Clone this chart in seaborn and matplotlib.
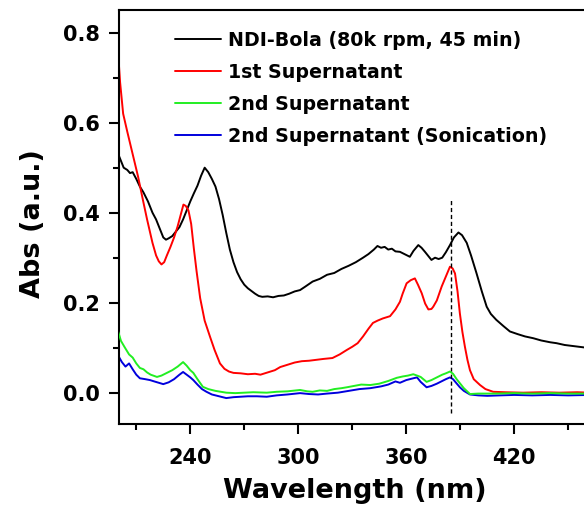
import matplotlib
matplotlib.use("Agg")
import matplotlib.pyplot as plt
import seaborn as sns
import pandas as pd
from matplotlib.ticker import MultipleLocator, FixedLocator

series_names = ["NDI-Bola (80k rpm, 45 min)", "1st Supernatant",
                "2nd Supernatant", "2nd Supernatant (Sonication)"]
series_colors = ["#000000", "#ff0000", "#22ee22", "#0000dd"]

black_x = [200, 201.5, 203, 205, 206.5, 208, 210, 212, 214, 216.5, 219, 221, 223, 225, 226.5, 228, 230, 232, 234, 236,
           238, 240, 242, 244, 246, 248, 250, 252, 254, 256, 258, 260, 262, 264, 266, 268, 270, 272, 274, 276, 278, 280,
           283, 286, 289, 292, 295, 298, 301, 304, 308, 312, 316, 320, 324, 328, 332, 336, 339, 342, 344, 346, 348, 350,
           352, 354, 356.5, 359, 362, 364, 366.7, 368.5, 370.4, 372, 374, 376, 378, 380, 382, 384.3, 386.5, 389, 391,
           393.6, 396, 399, 402, 404.7, 407, 410, 414, 417.6, 422, 426, 430.6, 435, 440, 443.5, 448, 452, 456, 462]
black_y = [0.530, 0.515, 0.500, 0.495, 0.488, 0.490, 0.475, 0.458, 0.445, 0.425, 0.400, 0.385, 0.365, 0.345, 0.340,
           0.343, 0.348, 0.358, 0.368, 0.385, 0.405, 0.425, 0.443, 0.460, 0.482, 0.500, 0.490, 0.475, 0.458, 0.430,
           0.395, 0.355, 0.318, 0.290, 0.268, 0.252, 0.240, 0.232, 0.226, 0.220, 0.215, 0.213, 0.214, 0.212, 0.215,
           0.216, 0.220, 0.225, 0.228, 0.236, 0.247, 0.253, 0.262, 0.266, 0.275, 0.282, 0.290, 0.300, 0.308, 0.318,
           0.326, 0.322, 0.324, 0.318, 0.320, 0.314, 0.313, 0.308, 0.302, 0.315, 0.328, 0.322, 0.313, 0.305, 0.295,
           0.300, 0.297, 0.300, 0.312, 0.328, 0.345, 0.356, 0.350, 0.333, 0.305, 0.266, 0.225, 0.191, 0.175, 0.162,
           0.148, 0.136, 0.130, 0.125, 0.121, 0.116, 0.112, 0.110, 0.106, 0.104, 0.102, 0.099]

red_x = [200, 201, 202.7, 205, 208, 211, 213.7, 216, 219, 221, 222.5, 224, 225.5, 227, 229, 231, 233, 235, 236.2, 237.5,
         239, 240.5, 242, 243.5, 245.5, 248, 251, 253.5, 256.5, 259, 261.5, 264, 268, 272, 276, 279, 283, 287, 290, 294,
         298, 302, 306, 310, 314, 319, 323, 327, 330, 333, 336, 339, 341.5, 344, 347, 351, 354, 356.5, 358, 360.2,
         362.5, 364.8, 366.5, 368.6, 370.5, 372.3, 374, 375, 377, 379.7, 382, 384.3, 385.8, 387.1, 388.5, 389.8, 391.2,
         392.6, 394, 395.4, 397.5, 401, 404, 408.3, 415, 425, 435, 445, 455, 462]
red_y = [0.750, 0.690, 0.620, 0.580, 0.530, 0.480, 0.428, 0.385, 0.333, 0.305, 0.292, 0.285, 0.290, 0.305, 0.324,
         0.345, 0.370, 0.400, 0.418, 0.415, 0.405, 0.375, 0.320, 0.270, 0.210, 0.160, 0.124, 0.095, 0.065, 0.053,
         0.047, 0.044, 0.043, 0.041, 0.042, 0.040, 0.045, 0.050, 0.057, 0.062, 0.067, 0.070, 0.071, 0.073, 0.075,
         0.077, 0.085, 0.095, 0.102, 0.110, 0.125, 0.142, 0.155, 0.160, 0.165, 0.170, 0.185, 0.202, 0.220, 0.243,
         0.250, 0.254, 0.240, 0.221, 0.198, 0.185, 0.186, 0.191, 0.205, 0.236, 0.258, 0.280, 0.276, 0.265, 0.225,
         0.176, 0.135, 0.102, 0.073, 0.050, 0.030, 0.017, 0.008, 0.002, 0.001, 0.000, 0.001, 0.000, 0.001, 0.000]

green_x = [200, 201.5, 203.7, 206, 208, 210, 212, 214, 216, 218, 221.5, 224, 227, 230, 233, 236, 238, 240, 241.7, 244,
           247, 250, 254, 257, 260, 265, 270, 275, 282.5, 288, 294, 301, 305, 308, 312, 316, 320, 324, 327, 331, 335,
           340, 345, 350, 354.7, 358, 361, 363.9, 366, 368, 371.3, 374, 377, 380, 382, 384.3, 386, 388, 389.8, 392,
           395.4, 400, 410, 420, 430, 440, 450, 462]
green_y = [0.135, 0.115, 0.100, 0.085, 0.078, 0.065, 0.055, 0.052, 0.045, 0.040, 0.035, 0.038, 0.044, 0.050, 0.058,
           0.068, 0.060, 0.050, 0.044, 0.030, 0.013, 0.008, 0.004, 0.002, 0.000, -0.001, 0.000, 0.001, 0.000, 0.002,
           0.003, 0.006, 0.003, 0.002, 0.005, 0.004, 0.008, 0.010, 0.012, 0.015, 0.018, 0.017, 0.020, 0.026, 0.033,
           0.036, 0.038, 0.041, 0.038, 0.035, 0.024, 0.028, 0.034, 0.040, 0.043, 0.047, 0.042, 0.030, 0.021, 0.010,
           -0.003, -0.002, -0.002, -0.001, -0.002, -0.001, -0.002, -0.002]

blue_x = [200, 202, 204, 206, 208, 210, 212, 215, 217.6, 220, 222.5, 225, 228, 231, 234, 236, 238, 240, 241.7, 244,
          246.5, 249, 252, 256, 260, 264, 268, 272, 277, 282.5, 288, 294, 301, 306, 311, 316, 322, 328, 334, 340, 346,
          350, 354, 356.5, 360, 363.9, 366, 368, 371.3, 374, 377, 380, 382, 384.3, 386, 389.8, 392, 395.4, 400, 405,
          412, 420, 430, 440, 450, 462]
blue_y = [0.082, 0.068, 0.058, 0.065, 0.052, 0.040, 0.032, 0.030, 0.028, 0.025, 0.022, 0.019, 0.023, 0.030, 0.040,
          0.046, 0.040, 0.034, 0.028, 0.018, 0.008, 0.002, -0.004, -0.008, -0.012, -0.010, -0.009, -0.008, -0.008,
          -0.009, -0.006, -0.004, -0.001, -0.003, -0.004, -0.002, 0.000, 0.004, 0.008, 0.010, 0.014, 0.018, 0.025,
          0.022, 0.028, 0.032, 0.034, 0.024, 0.012, 0.015, 0.020, 0.026, 0.030, 0.034, 0.030, 0.012, 0.004, -0.004,
          -0.006, -0.007, -0.006, -0.005, -0.006, -0.005, -0.006, -0.005]

x_ticks = [240, 300, 360, 420]
y_ticks = [0.0, 0.2, 0.4, 0.6, 0.8]
marker_wavelength = 385
x_label = "Wavelength (nm)"
y_label = "Abs (a.u.)"

frames = []
for name, xs, ys in zip(series_names, [black_x, red_x, green_x, blue_x], [black_y, red_y, green_y, blue_y]):
    frames.append(pd.DataFrame({"wl": xs, "abs": ys, "sample": name}))
df = pd.concat(frames, ignore_index=True)

sns.set_theme(style="ticks")
plt.rcParams["font.family"] = ["DejaVu Sans"]
plt.rcParams["font.weight"] = "bold"
plt.rcParams["text.color"] = "black"
plt.rcParams["axes.labelcolor"] = "black"
plt.rcParams["xtick.color"] = "black"
plt.rcParams["ytick.color"] = "black"

W, H = 584, 509
fig = plt.figure(figsize=(W / 100, H / 100), dpi=100)
fig.patch.set_facecolor("white")
ax = fig.add_axes([119 / W, 85 / H, (590 - 119) / W, (499 - 85) / H])

sns.lineplot(data=df, x="wl", y="abs", hue="sample", hue_order=series_names,
             palette=series_colors, estimator=None, sort=False, linewidth=1.4, ax=ax)
lines = ax.get_lines()
if len(lines) >= 4:
    lines[2].set_zorder(3)

ax.plot([marker_wavelength, marker_wavelength], [-0.045, 0.428], color="black",
        linestyle=(0, (3, 2)), linewidth=1.0)

ax.set_xlim(200.4, 462.1)
ax.set_ylim(-0.0696, 0.8504)
ax.xaxis.set_major_locator(FixedLocator(x_ticks))
ax.xaxis.set_minor_locator(FixedLocator([210, 270, 330, 390, 450]))
ax.yaxis.set_major_locator(FixedLocator(y_ticks))
ax.yaxis.set_minor_locator(MultipleLocator(0.1))

for side in ["left", "bottom", "top", "right"]:
    ax.spines[side].set_linewidth(1.5)
    ax.spines[side].set_color("black")
ax.tick_params(axis="y", which="major", direction="out", length=7.5, width=1.5,
               labelsize=15, pad=6, colors="black", labelcolor="black")
ax.tick_params(axis="x", which="major", direction="out", length=7.5, width=1.5,
               labelsize=15, pad=10, colors="black", labelcolor="black")
ax.tick_params(axis="both", which="minor", direction="out", length=4, width=1.5, colors="black")
for lab in ax.get_xticklabels() + ax.get_yticklabels():
    lab.set_fontweight("bold")
    lab.set_color("black")

ax.set_xlabel(x_label, fontsize=19.5, fontweight="bold", color="black")
ax.set_ylabel(y_label, fontsize=19.5, fontweight="bold", color="black")
ax.xaxis.set_label_coords(0.5, -(478 - 424) / 414)
ax.yaxis.set_label_coords(-(119 - 46) / 471, (424 - 223.5) / 414)

handles, labels = ax.get_legend_handles_labels()
leg = ax.legend(handles, labels, loc="upper left", bbox_to_anchor=(175 / W, 1 - 31 / H),
                bbox_transform=fig.transFigure, frameon=False, borderpad=0, borderaxespad=0,
                handlelength=2.4, handletextpad=0.4, labelspacing=0.68,
                prop={"size": 13.7, "weight": "bold"})
for lh in leg.get_lines():
    lh.set_linewidth(1.4)
for t in leg.get_texts():
    t.set_color("black")

fig.savefig("out.png", dpi=100, facecolor="white")
